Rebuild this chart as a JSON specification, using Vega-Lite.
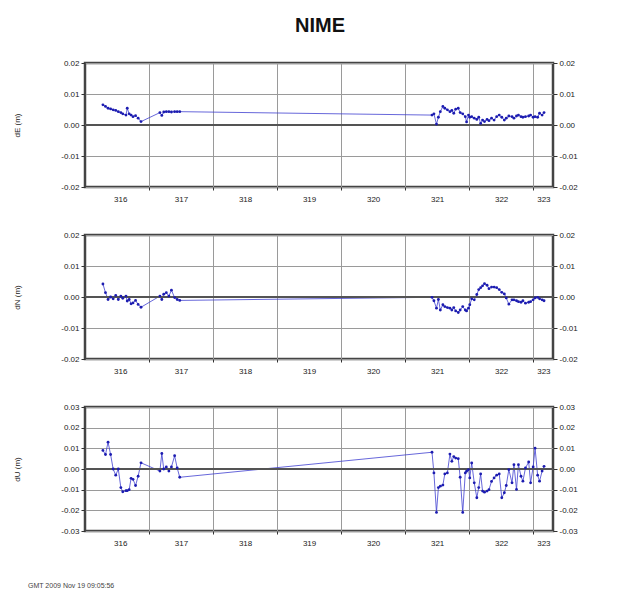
{
  "$schema": "https://vega.github.io/schema/vega-lite/v6.json",
  "background": "white",
  "padding": {"left": 11, "top": 15, "right": 10, "bottom": 5},
  "title": {"text": "NIME", "fontSize": 20, "fontWeight": "bold", "font": "Liberation Sans", "anchor": "middle", "color": "#111", "offset": 22, "dx": 25},
  "data": {"values": [
    {"t": 316.28, "dE": 0.0065, "dN": 0.0042, "dU": 0.009},
    {"t": 316.32, "dE": 0.0060, "dN": 0.0014, "dU": 0.007},
    {"t": 316.36, "dE": 0.0054, "dN": -0.0008, "dU": 0.013},
    {"t": 316.40, "dE": 0.0052, "dN": 0.0000, "dU": 0.007},
    {"t": 316.44, "dE": 0.0049, "dN": -0.0006, "dU": 0.000},
    {"t": 316.48, "dE": 0.0047, "dN": 0.0005, "dU": -0.003},
    {"t": 316.52, "dE": 0.0043, "dN": -0.0008, "dU": 0.000},
    {"t": 316.56, "dE": 0.0040, "dN": 0.0003, "dU": -0.009},
    {"t": 316.59, "dE": 0.0036, "dN": -0.0004, "dU": -0.011},
    {"t": 316.64, "dE": 0.0032, "dN": 0.0003, "dU": -0.0105},
    {"t": 316.66, "dE": 0.0054, "dN": -0.0013, "dU": -0.0105},
    {"t": 316.69, "dE": 0.0036, "dN": -0.0008, "dU": -0.010},
    {"t": 316.72, "dE": 0.0032, "dN": -0.0022, "dU": -0.0045},
    {"t": 316.75, "dE": 0.0027, "dN": -0.0019, "dU": -0.005},
    {"t": 316.79, "dE": 0.0030, "dN": -0.0011, "dU": -0.008},
    {"t": 316.83, "dE": 0.0022, "dN": -0.0024, "dU": -0.0035},
    {"t": 316.875, "dE": 0.0011, "dN": -0.0033, "dU": 0.003},
    {"t": 317.17, "dE": 0.0040, "dN": 0.0003, "dU": -0.001},
    {"t": 317.20, "dE": 0.0031, "dN": -0.0008, "dU": 0.0075},
    {"t": 317.23, "dE": 0.0042, "dN": 0.0009, "dU": 0.000},
    {"t": 317.27, "dE": 0.0043, "dN": 0.0014, "dU": 0.001},
    {"t": 317.31, "dE": 0.0043, "dN": 0.0003, "dU": -0.001},
    {"t": 317.35, "dE": 0.0042, "dN": 0.0022, "dU": 0.001},
    {"t": 317.40, "dE": 0.0043, "dN": -0.0002, "dU": 0.0064},
    {"t": 317.44, "dE": 0.0043, "dN": -0.0008, "dU": 0.0005},
    {"t": 317.48, "dE": 0.0043, "dN": -0.0011, "dU": -0.004},
    {"t": 321.42, "dE": 0.0032, "dN": -0.0001, "dU": 0.0081},
    {"t": 321.45, "dE": 0.0036, "dN": -0.0012, "dU": -0.0019},
    {"t": 321.49, "dE": 0.0003, "dN": -0.0036, "dU": -0.0210},
    {"t": 321.52, "dE": 0.0025, "dN": -0.0008, "dU": -0.0090},
    {"t": 321.55, "dE": 0.0043, "dN": -0.0042, "dU": -0.0083},
    {"t": 321.59, "dE": 0.0060, "dN": -0.0025, "dU": -0.0078},
    {"t": 321.62, "dE": 0.0054, "dN": -0.0031, "dU": -0.0024},
    {"t": 321.66, "dE": 0.0049, "dN": -0.0034, "dU": -0.0019},
    {"t": 321.70, "dE": 0.0043, "dN": -0.0036, "dU": 0.0072},
    {"t": 321.73, "dE": 0.0047, "dN": -0.0042, "dU": 0.0037},
    {"t": 321.76, "dE": 0.0038, "dN": -0.0034, "dU": 0.0060},
    {"t": 321.79, "dE": 0.0051, "dN": -0.0045, "dU": 0.0053},
    {"t": 321.83, "dE": 0.0054, "dN": -0.0050, "dU": 0.0050},
    {"t": 321.86, "dE": 0.0040, "dN": -0.0042, "dU": -0.0040},
    {"t": 321.90, "dE": 0.0036, "dN": -0.0031, "dU": -0.0210},
    {"t": 321.94, "dE": 0.0027, "dN": -0.0042, "dU": -0.0019},
    {"t": 321.96, "dE": 0.0010, "dN": -0.0045, "dU": -0.0011},
    {"t": 321.99, "dE": 0.0032, "dN": -0.0036, "dU": -0.0003},
    {"t": 322.01, "dE": 0.0025, "dN": -0.0025, "dU": -0.0043},
    {"t": 322.04, "dE": 0.0027, "dN": -0.0006, "dU": 0.0029},
    {"t": 322.08, "dE": 0.0022, "dN": -0.0009, "dU": -0.0067},
    {"t": 322.12, "dE": 0.0018, "dN": 0.0008, "dU": -0.0139},
    {"t": 322.15, "dE": 0.0025, "dN": 0.0024, "dU": -0.0090},
    {"t": 322.18, "dE": 0.0005, "dN": 0.0030, "dU": -0.0024},
    {"t": 322.21, "dE": 0.0016, "dN": 0.0036, "dU": -0.0107},
    {"t": 322.24, "dE": 0.0011, "dN": 0.0043, "dU": -0.0112},
    {"t": 322.28, "dE": 0.0018, "dN": 0.0038, "dU": -0.0107},
    {"t": 322.31, "dE": 0.0014, "dN": 0.0027, "dU": -0.0100},
    {"t": 322.35, "dE": 0.0022, "dN": 0.0032, "dU": -0.0060},
    {"t": 322.39, "dE": 0.0016, "dN": 0.0032, "dU": -0.0043},
    {"t": 322.43, "dE": 0.0027, "dN": 0.0030, "dU": -0.0030},
    {"t": 322.47, "dE": 0.0032, "dN": 0.0024, "dU": -0.0024},
    {"t": 322.51, "dE": 0.0025, "dN": 0.0015, "dU": -0.0139},
    {"t": 322.55, "dE": 0.0016, "dN": 0.0010, "dU": -0.0115},
    {"t": 322.58, "dE": 0.0022, "dN": -0.0003, "dU": -0.0080},
    {"t": 322.62, "dE": 0.0029, "dN": -0.0023, "dU": -0.0003},
    {"t": 322.67, "dE": 0.0027, "dN": -0.0009, "dU": -0.0067},
    {"t": 322.70, "dE": 0.0022, "dN": -0.0009, "dU": 0.0021},
    {"t": 322.74, "dE": 0.0029, "dN": -0.0012, "dU": -0.0099},
    {"t": 322.77, "dE": 0.0032, "dN": -0.0015, "dU": 0.0021},
    {"t": 322.81, "dE": 0.0027, "dN": -0.0017, "dU": -0.0035},
    {"t": 322.84, "dE": 0.0025, "dN": -0.0012, "dU": -0.0059},
    {"t": 322.88, "dE": 0.0027, "dN": -0.0020, "dU": 0.0005},
    {"t": 322.93, "dE": 0.0029, "dN": -0.0017, "dU": 0.0034},
    {"t": 322.96, "dE": 0.0032, "dN": -0.0015, "dU": -0.0067},
    {"t": 323.00, "dE": 0.0025, "dN": -0.0009, "dU": 0.0010},
    {"t": 323.03, "dE": 0.0027, "dN": -0.0003, "dU": 0.0101},
    {"t": 323.07, "dE": 0.0025, "dN": -0.0001, "dU": -0.0030},
    {"t": 323.10, "dE": 0.0038, "dN": -0.0006, "dU": -0.0059},
    {"t": 323.14, "dE": 0.0032, "dN": -0.0009, "dU": -0.0010},
    {"t": 323.17, "dE": 0.0040, "dN": -0.0012, "dU": 0.0013}
  ]},
  "vconcat": [
    {
      "width": 468, "height": 124,
      "layer": [
        {"mark": {"type": "line", "color": "#4040d0", "strokeWidth": 0.8},
         "encoding": {
           "x": {"field": "t", "type": "quantitative", "scale": {"domain": [316, 323.31], "nice": false, "zero": false},
                 "axis": {"orient": "bottom", "values": [317, 318, 319, 320, 321, 322, 323], "grid": true, "labels": false, "ticks": true, "tickSize": 3, "domain": false, "title": null}},
           "y": {"field": "dE", "type": "quantitative", "scale": {"domain": [-0.02, 0.02], "nice": false, "zero": false},
                 "axis": {"orient": "left", "values": [-0.02, -0.01, 0, 0.01, 0.02], "grid": true, "tickSize": 4, "labelPadding": 2, "labelFlush": false, "domain": false,
                          "labelExpr": "replace(format(datum.value, '.2f'), '\u2212', '-')",
                          "title": "dE (m)", "titleX": -68, "titleY": 62, "titleAngle": 270, "titleAlign": "center", "titleBaseline": "middle"}}
         }},
        {"mark": {"type": "rule", "color": "#555", "strokeWidth": 1},
         "encoding": {"y": {"datum": 0, "type": "quantitative", "axis": null}}},
        {"mark": {"type": "point", "filled": true, "shape": "circle", "size": 8, "color": "#1c1cb0", "opacity": 1},
         "encoding": {
           "x": {"field": "t", "type": "quantitative",
                 "axis": {"orient": "bottom", "values": [316.55, 317.5, 318.5, 319.5, 320.5, 321.5, 322.5, 323.16], "grid": false, "ticks": false, "tickSize": 0, "labelPadding": 8, "labelFlush": false, "domain": false, "title": null,
                          "labelExpr": "'' + floor(datum.value)"}},
           "y": {"field": "dE", "type": "quantitative",
                 "axis": {"orient": "right", "values": [-0.02, -0.01, 0, 0.01, 0.02], "grid": false, "tickSize": 4, "labelPadding": 2, "labelFlush": false, "domain": false, "title": null,
                          "labelExpr": "replace(format(datum.value, '.2f'), '\u2212', '-')"}}
         }}
      ],
      "resolve": {"axis": {"x": "independent", "y": "independent"}}
    },
    {
      "width": 468, "height": 124,
      "layer": [
        {"mark": {"type": "line", "color": "#4040d0", "strokeWidth": 0.8},
         "encoding": {
           "x": {"field": "t", "type": "quantitative", "scale": {"domain": [316, 323.31], "nice": false, "zero": false},
                 "axis": {"orient": "bottom", "values": [317, 318, 319, 320, 321, 322, 323], "grid": true, "labels": false, "ticks": true, "tickSize": 3, "domain": false, "title": null}},
           "y": {"field": "dN", "type": "quantitative", "scale": {"domain": [-0.02, 0.02], "nice": false, "zero": false},
                 "axis": {"orient": "left", "values": [-0.02, -0.01, 0, 0.01, 0.02], "grid": true, "tickSize": 4, "labelPadding": 2, "labelFlush": false, "domain": false,
                          "labelExpr": "replace(format(datum.value, '.2f'), '\u2212', '-')",
                          "title": "dN (m)", "titleX": -68, "titleY": 62, "titleAngle": 270, "titleAlign": "center", "titleBaseline": "middle"}}
         }},
        {"mark": {"type": "rule", "color": "#555", "strokeWidth": 1},
         "encoding": {"y": {"datum": 0, "type": "quantitative", "axis": null}}},
        {"mark": {"type": "point", "filled": true, "shape": "circle", "size": 8, "color": "#1c1cb0", "opacity": 1},
         "encoding": {
           "x": {"field": "t", "type": "quantitative",
                 "axis": {"orient": "bottom", "values": [316.55, 317.5, 318.5, 319.5, 320.5, 321.5, 322.5, 323.16], "grid": false, "ticks": false, "tickSize": 0, "labelPadding": 8, "labelFlush": false, "domain": false, "title": null,
                          "labelExpr": "'' + floor(datum.value)"}},
           "y": {"field": "dN", "type": "quantitative",
                 "axis": {"orient": "right", "values": [-0.02, -0.01, 0, 0.01, 0.02], "grid": false, "tickSize": 4, "labelPadding": 2, "labelFlush": false, "domain": false, "title": null,
                          "labelExpr": "replace(format(datum.value, '.2f'), '\u2212', '-')"}}
         }}
      ],
      "resolve": {"axis": {"x": "independent", "y": "independent"}}
    },
    {
      "width": 468, "height": 124,
      "title": {"text": "GMT  2009 Nov 19 09:05:56", "orient": "bottom", "anchor": "start", "frame": "bounds", "offset": 35, "dx": 15, "fontSize": 7, "fontWeight": "normal", "font": "Liberation Sans", "color": "#444"},
      "layer": [
        {"mark": {"type": "line", "color": "#4040d0", "strokeWidth": 0.8},
         "encoding": {
           "x": {"field": "t", "type": "quantitative", "scale": {"domain": [316, 323.31], "nice": false, "zero": false},
                 "axis": {"orient": "bottom", "values": [317, 318, 319, 320, 321, 322, 323], "grid": true, "labels": false, "ticks": true, "tickSize": 3, "domain": false, "title": null}},
           "y": {"field": "dU", "type": "quantitative", "scale": {"domain": [-0.03, 0.03], "nice": false, "zero": false},
                 "axis": {"orient": "left", "values": [-0.03, -0.02, -0.01, 0, 0.01, 0.02, 0.03], "grid": true, "tickSize": 4, "labelPadding": 2, "labelFlush": false, "domain": false,
                          "labelExpr": "replace(format(datum.value, '.2f'), '\u2212', '-')",
                          "title": "dU (m)", "titleX": -68, "titleY": 62, "titleAngle": 270, "titleAlign": "center", "titleBaseline": "middle"}}
         }},
        {"mark": {"type": "rule", "color": "#555", "strokeWidth": 1},
         "encoding": {"y": {"datum": 0, "type": "quantitative", "axis": null}}},
        {"mark": {"type": "point", "filled": true, "shape": "circle", "size": 8, "color": "#1c1cb0", "opacity": 1},
         "encoding": {
           "x": {"field": "t", "type": "quantitative",
                 "axis": {"orient": "bottom", "values": [316.55, 317.5, 318.5, 319.5, 320.5, 321.5, 322.5, 323.16], "grid": false, "ticks": false, "tickSize": 0, "labelPadding": 8, "labelFlush": false, "domain": false, "title": null,
                          "labelExpr": "'' + floor(datum.value)"}},
           "y": {"field": "dU", "type": "quantitative",
                 "axis": {"orient": "right", "values": [-0.03, -0.02, -0.01, 0, 0.01, 0.02, 0.03], "grid": false, "tickSize": 4, "labelPadding": 2, "labelFlush": false, "domain": false, "title": null,
                          "labelExpr": "replace(format(datum.value, '.2f'), '\u2212', '-')"}}
         }}
      ],
      "resolve": {"axis": {"x": "independent", "y": "independent"}}
    }
  ],
  "spacing": 48,
  "bounds": "flush",
  "config": {
    "view": {"stroke": "#444", "strokeWidth": 2.5},
    "axis": {"labelFont": "Liberation Sans", "labelFontSize": 8, "labelColor": "#222", "titleFont": "Liberation Sans", "titleFontSize": 8, "titleFontWeight": "normal", "titleColor": "#222", "tickColor": "#333", "gridColor": "#9a9a9a", "gridWidth": 1, "gridOpacity": 1}
  }
}
